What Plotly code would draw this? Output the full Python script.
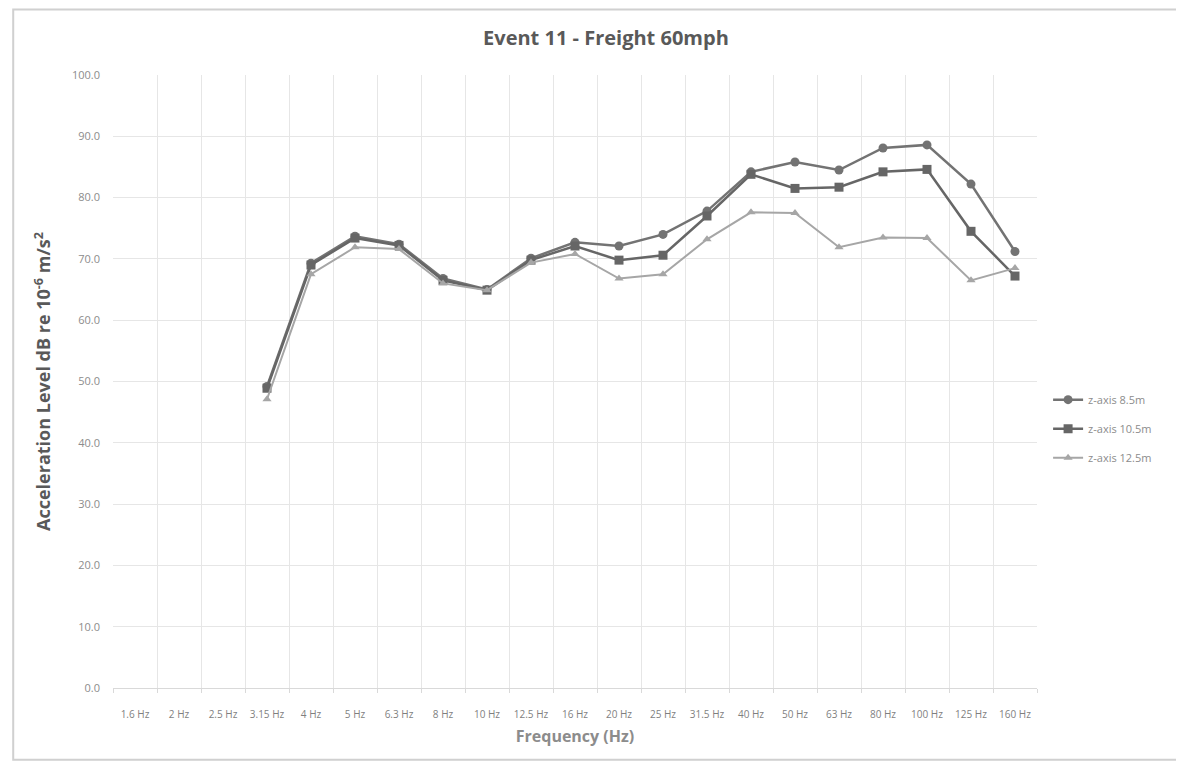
import plotly.graph_objects as go

categories = ["1.6 Hz", "2 Hz", "2.5 Hz", "3.15 Hz", "4 Hz", "5 Hz", "6.3 Hz", "8 Hz", "10 Hz",
              "12.5 Hz", "16 Hz", "20 Hz", "25 Hz", "31.5 Hz", "40 Hz", "50 Hz", "63 Hz",
              "80 Hz", "100 Hz", "125 Hz", "160 Hz"]

z85 = [None, None, None, 49.2, 69.3, 73.7, 72.4, 66.8, 65.0, 70.1, 72.7, 72.1, 74.0, 77.8,
       84.2, 85.8, 84.5, 88.1, 88.6, 82.2, 71.2]
z105 = [None, None, None, 48.9, 69.0, 73.4, 72.2, 66.5, 64.9, 69.8, 72.1, 69.8, 70.6, 77.0,
        83.8, 81.5, 81.7, 84.2, 84.6, 74.5, 67.2]
z125 = [None, None, None, 47.1, 67.5, 71.9, 71.6, 66.0, 64.9, 69.4, 70.8, 66.8, 67.5, 73.2,
        77.6, 77.5, 71.9, 73.5, 73.4, 66.5, 68.5]

y_ticks = [0, 10, 20, 30, 40, 50, 60, 70, 80, 90, 100]

fig = go.Figure()
fig.add_trace(go.Scatter(x=categories, y=z85, name="z-axis 8.5m", mode="lines+markers",
                         legendgroup="a",
                         line=dict(color="#737373", width=2.5),
                         marker=dict(symbol="circle", size=9, color="#737373")))
fig.add_trace(go.Scatter(x=categories, y=z105, name="z-axis 10.5m", mode="lines+markers",
                         legendgroup="b",
                         line=dict(color="#666666", width=2.5),
                         marker=dict(symbol="square", size=9, color="#666666")))
fig.add_trace(go.Scatter(x=categories, y=z125, name="z-axis 12.5m", mode="lines+markers",
                         legendgroup="c",
                         line=dict(color="#a6a6a6", width=2),
                         marker=dict(symbol="triangle-up", size=8, color="#a6a6a6")))

fig.update_layout(
    width=1184, height=765,
    margin=dict(l=105, r=155, t=67, b=85),
    paper_bgcolor="white", plot_bgcolor="white",
    font=dict(family="Open Sans", color="#8c8c8c"),
    title=dict(text="<b>Event 11 - Freight 60mph</b>", x=0.505, xanchor="center",
               y=0.961, yanchor="middle", font=dict(size=20, color="#595959", family="Open Sans")),
    xaxis=dict(type="category", categoryorder="array", categoryarray=categories,
               tickson="boundaries", showgrid=True, gridcolor="#e6e6e6", gridwidth=1,
               showline=True, linecolor="#d9d9d9", ticks="outside", ticklen=4,
               tickcolor="#d9d9d9", tickangle=0, ticklabelstandoff=17,
               tickfont=dict(size=10, color="#7f7f7f"),
               title=dict(text="<b>Frequency (Hz)</b>", font=dict(size=16, color="#8c8c8c"),
                          standoff=10),
               range=[-0.5, len(categories) - 0.5]),
    yaxis=dict(range=[0, 100], tickvals=y_ticks, tickformat=".1f", showgrid=True,
               gridcolor="#e6e6e6", gridwidth=1, zeroline=False, showline=False,
               ticklabelstandoff=12,
               tickfont=dict(size=11, color="#8c8c8c"),
               title=dict(text="<b>Acceleration Level dB re 10<sup>-6</sup> m/s<sup>2</sup></b>",
                          font=dict(size=18, color="#595959"), standoff=16)),
    legend=dict(x=1.012, y=0.494, xanchor="left", yanchor="top", bgcolor="rgba(0,0,0,0)",
                font=dict(size=11, color="#8c8c8c"), tracegroupgap=10),
    shapes=[dict(type="rect", xref="paper", yref="paper", x0=-0.108, x1=1.155,
                 y0=-0.117, y1=1.107, line=dict(color="#d0d0d0", width=2), layer="below")],
)

fig.write_html("out.html")
